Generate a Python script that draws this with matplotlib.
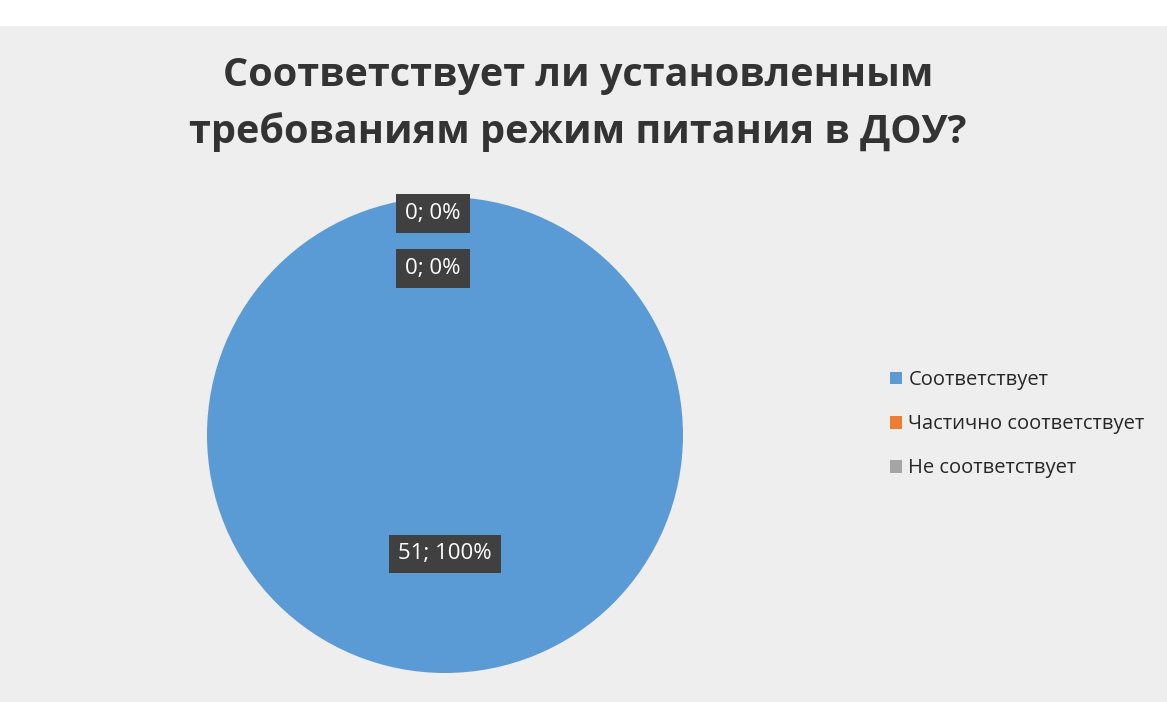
import numpy as np
import matplotlib.pyplot as plt
from matplotlib.patches import Rectangle

# Data
categories = ["Соответствует", "Частично соответствует", "Не соответствует"]
values = [51, 0, 0]
colors = ["#5b9bd5", "#ed7d31", "#a5a5a5"]
title = "Соответствует ли установленным\nтребованиям режим питания в ДОУ?"

plt.rcParams['font.family'] = ['Open Sans', 'DejaVu Sans']

W, H = 1167, 702
fig = plt.figure(figsize=(W / 100, H / 100), dpi=100)
fig.patch.set_facecolor("white")

# scanned slide background
fig.patches.append(Rectangle((0, 0), 1, (H - 26) / H, transform=fig.transFigure,
                             facecolor="#eeeeee", edgecolor="none", zorder=-10))

# pie axes placed so center ~ (445, 435), radius ~ 238 px
cx, cy, r = 445, 435, 238
ax = fig.add_axes([(cx - r) / W, (H - cy - r) / H, 2 * r / W, 2 * r / H])
ax.set_zorder(1)
wedges, _ = ax.pie(values, colors=colors, startangle=90, counterclock=False,
                   radius=1.0, wedgeprops=dict(linewidth=0))
ax.set_xlim(-1, 1)
ax.set_ylim(-1, 1)
ax.set_aspect("equal")
ax.set_axis_off()

# Data labels
total = sum(values)
label_pos = [(0.0, -0.5), (-0.05, 0.93), (-0.05, 0.70)]
for v, (x, y) in zip(values, label_pos):
    txt = f"{v}; {round(100 * v / total)}%"
    ax.text(x, y, txt, ha="center", va="center", color="white", fontsize=16,
            bbox=dict(boxstyle="square,pad=0.4", facecolor="#404040", edgecolor="none"))

fig.text(578 / W, 1 - 104 / H, title, ha="center", va="center", fontsize=28.5,
         fontweight="bold", color="#333333", linespacing=1.55)

handles = [plt.Rectangle((0, 0), 1, 1, facecolor=c) for c in colors]
fig.legend(handles, categories, loc="upper left", bbox_to_anchor=(872 / W, 1 - 352 / H),
           frameon=False, fontsize=14.5, handlelength=0.6, handleheight=0.6,
           handletextpad=0.3, labelspacing=1.2, labelcolor="#262626")

fig.savefig("out.png", dpi=100, facecolor=fig.get_facecolor())
